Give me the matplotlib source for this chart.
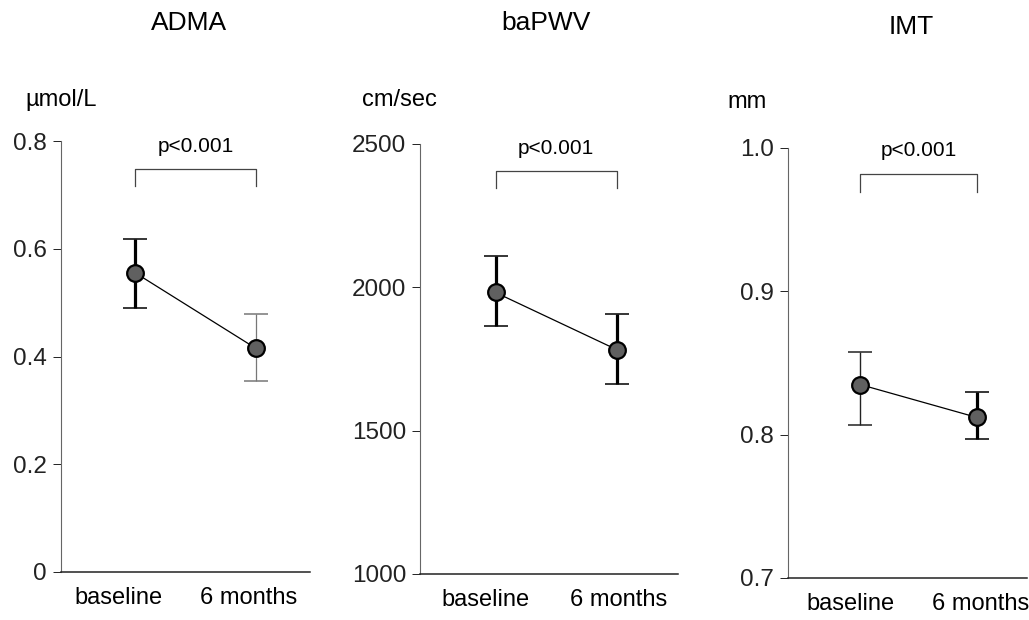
import matplotlib
matplotlib.use("Agg")
import matplotlib.pyplot as plt

plt.rcParams['font.family'] = ['Liberation Sans', 'DejaVu Sans']

groups = ["baseline", "6 months"]

titles = ["ADMA", "baPWV", "IMT"]
units = ["\u00b5mol/L", "cm/sec", "mm"]

adma_mean = [0.555, 0.415]
adma_low = [0.490, 0.354]
adma_high = [0.618, 0.479]

pwv_mean = [1982, 1783]
pwv_low = [1864, 1663]
pwv_high = [2108, 1907]

imt_mean = [0.835, 0.812]
imt_low = [0.807, 0.797]
imt_high = [0.858, 0.830]

yticks = [[0, 0.2, 0.4, 0.6, 0.8], [1000, 1500, 2000, 2500], [0.7, 0.8, 0.9, 1.0]]
yticklabels = [["0", "0.2", "0.4", "0.6", "0.8"], ["1000", "1500", "2000", "2500"],
               ["0.7", "0.8", "0.9", "1.0"]]
bracket = [(0.748, 0.717), (2405, 2347), (0.982, 0.969)]
ptext = "p<0.001"

means = [adma_mean, pwv_mean, imt_mean]
lows = [adma_low, pwv_low, imt_low]
highs = [adma_high, pwv_high, imt_high]

# axes boxes in pixels: left, right, top, bottom
boxes = [(61, 310, 141, 572), (420, 678, 144, 574), (788, 1027, 148, 578)]
xlims = [(-0.618, 1.448), (-0.624, 1.508), (-0.615, 1.427)]
label_x = [(-0.137, 0.942), (-0.079, 1.02), (-0.077, 1.034)]
# error bar styling for baseline / 6 months
bar_lw = [(2.3, 0.9), (2.3, 2.3), (1.0, 2.3)]
bar_col = [("black", "#777777"), ("black", "black"), ("#222222", "black")]
spine_style = ["-", "-", (0, (2, 1))]
title_pos = [(189, 23), (546, 23), (911, 27)]
unit_pos = [(25, 100), (362, 100), (727, 102)]

W, H = 1029, 620
fig = plt.figure(figsize=(W / 100, H / 100), dpi=100)

for i in range(3):
    l, r, t, b = boxes[i]
    ax = fig.add_axes([l / W, (H - b) / H, (r - l) / W, (b - t) / H])
    x = [0, 1]
    ax.plot(x, means[i], color="black", lw=0.9, zorder=2)
    for j in range(2):
        m = means[i][j]
        ax.errorbar([x[j]], [m], yerr=[[m - lows[i][j]], [highs[i][j] - m]],
                    fmt="none", ecolor=bar_col[i][j], elinewidth=bar_lw[i][j],
                    capsize=8.7, capthick=1.1, zorder=1)
        ax.plot([x[j]], [m], "o", ms=12, mfc="#606060", mec="black", mew=1.6, zorder=3)

    top, bot = bracket[i]
    ax.plot([0, 0, 1, 1], [bot, top, top, bot], color="#444444", lw=0.9)
    ax.annotate(ptext, (0.5, top), xytext=(0, 16.5), textcoords="offset points",
                ha="center", va="center", fontsize=15)

    ax.set_xlim(*xlims[i])
    ax.set_ylim(yticks[i][0], yticks[i][-1])
    ax.set_yticks(yticks[i])
    ax.set_yticklabels(yticklabels[i], fontsize=17.5)
    ax.set_xticks(label_x[i])
    ax.set_xticklabels(groups, fontsize=17)
    ax.tick_params(axis="x", length=0, pad=11)
    ax.tick_params(axis="y", length=6, width=0.7, pad=4, direction="out", colors="#222222")
    for s in ["top", "right"]:
        ax.spines[s].set_visible(False)
    ax.spines["left"].set_linewidth(0.8)
    ax.spines["left"].set_color("#666666")
    ax.spines["left"].set_linestyle(spine_style[i])
    ax.spines["bottom"].set_linewidth(1.1)
    ax.spines["bottom"].set_color("#222222")

    fig.text(title_pos[i][0] / W, 1 - title_pos[i][1] / H, titles[i],
             ha="center", va="center", fontsize=19)
    fig.text(unit_pos[i][0] / W, 1 - unit_pos[i][1] / H, units[i], ha="left", va="center",
             fontsize=17)

fig.savefig("out.png", dpi=100)
